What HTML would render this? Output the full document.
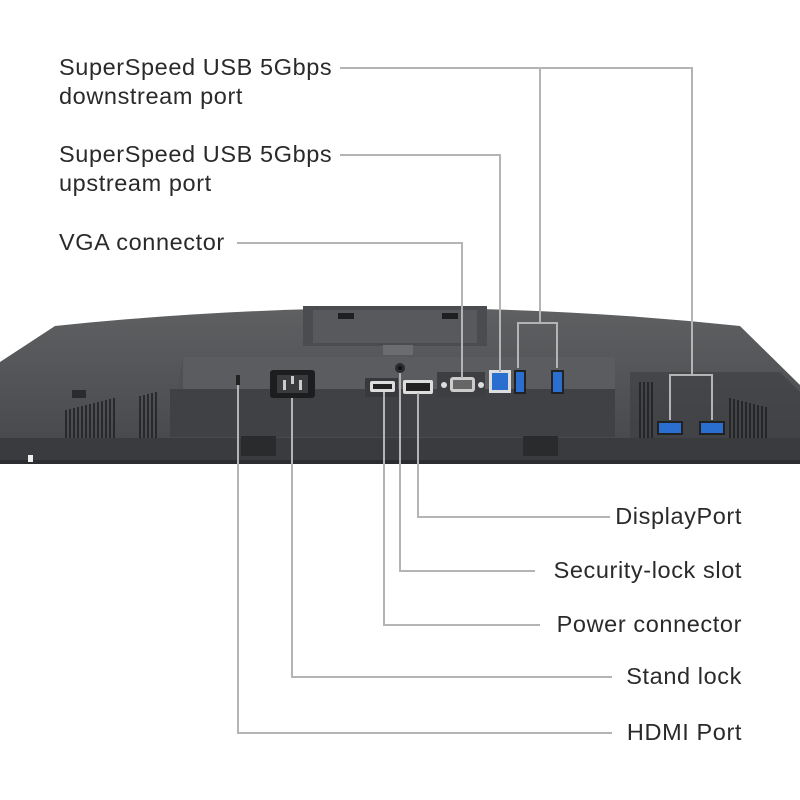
<!DOCTYPE html>
<html><head><style>
body{margin:0;width:800px;height:800px;background:#fff;overflow:hidden;font-family:"Liberation Sans",sans-serif;}
.t{position:absolute;font-size:23.5px;color:#2a2a2a;letter-spacing:0.6px;line-height:29px;white-space:nowrap}
</style></head><body>
<svg width="800" height="800" style="position:absolute;left:0;top:0">
<defs>
<linearGradient id="body" x1="0" y1="0" x2="0" y2="1"><stop offset="0" stop-color="#5e6062"/><stop offset="1" stop-color="#44464a"/></linearGradient>
</defs>
<path d="M0,362 L55,326 Q400,290 740,326 L800,385 L800,463 L0,463 Z" fill="url(#body)"/>
<rect x="0" y="438" width="800" height="25" fill="#3a3b3e"/>
<rect x="0" y="460" width="800" height="4" fill="#2c2d30"/>
<rect x="303" y="306" width="184" height="40" fill="#4a4c4f"/>
<rect x="313" y="310" width="164" height="33" fill="#57595c"/>
<rect x="338" y="313" width="16" height="6" fill="#1e1f21"/>
<rect x="442" y="313" width="16" height="6" fill="#1e1f21"/>
<rect x="383" y="345" width="30" height="10" fill="#6a6c6f"/>
<path d="M183,357 L615,357 L615,437 L170,437 Z" fill="#4e5053"/>
<rect x="183" y="357" width="432" height="32" fill="#5a5c5f"/>
<rect x="170" y="389" width="445" height="48" fill="#3f4144"/>
<path d="M630,372 L780,372 L800,392 L800,438 L630,438 Z" fill="#3c3e41" opacity="0.6"/>
<g stroke="#1c1d1f" stroke-width="1.5">
<path d="M66,410v28M70,409v29M74,408v30M78,407v31M82,406v32M86,405v33M90,404v34M94,403v35M98,402v36M102,401v37M106,400v38M110,399v39M114,398v40M140,396v42M144,395v43M148,394v44M152,393v45M156,392v46"/>
<path d="M640,382v56M644,382v56M648,382v56M652,382v56M730,398v40M734,399v39M738,400v38M742,401v37M746,402v36M750,403v35M754,404v34M758,405v33M762,406v32M766,407v31"/>
</g>
<rect x="241" y="436" width="35" height="20" fill="#2a2b2d"/>
<rect x="523" y="436" width="35" height="20" fill="#2a2b2d"/>
<rect x="28" y="455" width="5" height="7" fill="#eee"/>
<rect x="72" y="390" width="14" height="8" fill="#2a2b2d"/>
<rect x="270" y="370" width="45" height="28" rx="3" fill="#1c1d1f"/>
<rect x="277" y="375" width="31" height="18" fill="#3a3b3d"/>
<rect x="283" y="380" width="3" height="10" fill="#ccc"/><rect x="299" y="380" width="3" height="10" fill="#ccc"/><rect x="291" y="376" width="3" height="8" fill="#ccc"/>
<rect x="236" y="375" width="4" height="10" fill="#222"/>
<rect x="365" y="378" width="33" height="19" fill="#38393c"/>
<rect x="370" y="381" width="25" height="11" rx="2" fill="#ddd"/><rect x="373" y="384" width="19" height="5" fill="#222"/>
<circle cx="400" cy="368" r="5" fill="#2a2b2d"/><circle cx="400" cy="368" r="2" fill="#111"/>
<rect x="403" y="380" width="30" height="14" rx="2" fill="#ddd"/><rect x="406" y="383" width="24" height="8" fill="#222"/>
<rect x="437" y="372" width="48" height="25" fill="#3c3e41"/>
<circle cx="444" cy="385" r="3" fill="#ddd"/><circle cx="481" cy="385" r="3" fill="#ddd"/>
<rect x="450" y="377" width="25" height="15" rx="3" fill="#ccc"/><rect x="453" y="380" width="19" height="9" fill="#666"/>
<rect x="489" y="370" width="22" height="23" fill="#ddd"/><rect x="492" y="373" width="16" height="17" fill="#2a6fd0"/>
<rect x="514" y="370" width="12" height="24" fill="#222"/><rect x="516" y="372" width="8" height="20" fill="#2a6fd0"/>
<rect x="551" y="370" width="13" height="24" fill="#222"/><rect x="553" y="372" width="9" height="20" fill="#2a6fd0"/>
<rect x="657" y="421" width="26" height="14" fill="#222"/><rect x="659" y="423" width="22" height="10" fill="#2a6fd0"/>
<rect x="699" y="421" width="26" height="14" fill="#222"/><rect x="701" y="423" width="22" height="10" fill="#2a6fd0"/>
<g stroke="#b4b4b4" stroke-width="2" fill="none">
<path d="M340,68H692V375M670,420V375H712V420"/>
<path d="M540,68V323M518,368V323H557V368"/>
<path d="M340,155H500V372"/>
<path d="M237,243H462V378"/>
<path d="M418,393V517H610"/>
<path d="M400,373V571H535"/>
<path d="M384,392V625H540"/>
<path d="M292,398V677H612"/>
<path d="M238,385V733H612"/>
</g>
</svg>
<div class="t" style="left:59px;top:53px">SuperSpeed USB 5Gbps<br>downstream port</div>
<div class="t" style="left:59px;top:140px">SuperSpeed USB 5Gbps<br>upstream port</div>
<div class="t" style="left:59px;top:228px">VGA connector</div>
<div class="t" style="right:58px;top:502px">DisplayPort</div>
<div class="t" style="right:58px;top:556px">Security-lock slot</div>
<div class="t" style="right:58px;top:610px">Power connector</div>
<div class="t" style="right:58px;top:662px">Stand lock</div>
<div class="t" style="right:58px;top:718px">HDMI Port</div>
</body></html>
